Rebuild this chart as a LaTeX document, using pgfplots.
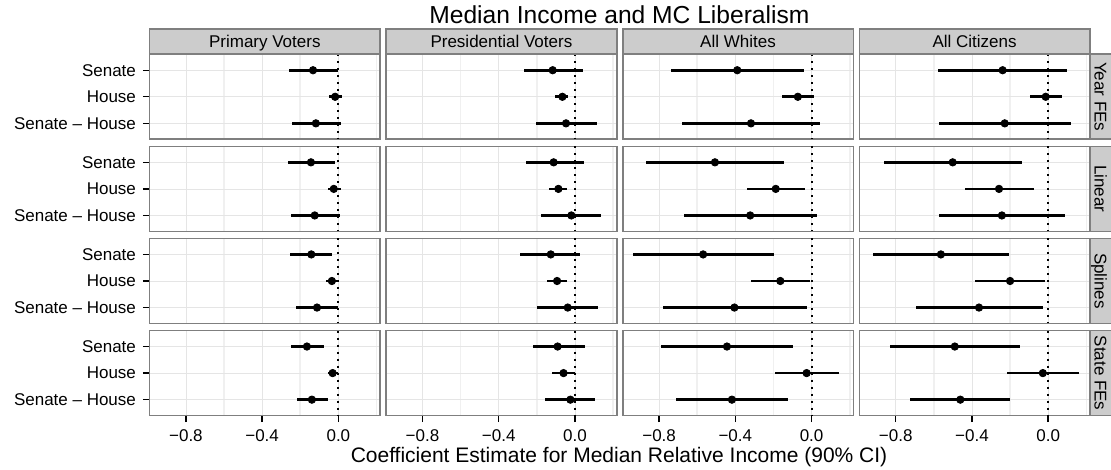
\documentclass[border=0pt]{standalone}
\usepackage{pgfplots}
\pgfplotsset{compat=1.18}
\usepackage{pgfplotstable}
\usepackage{fontspec}
\setmainfont{Liberation Sans}

\definecolor{grey50}{HTML}{7F7F7F}
\definecolor{grey80}{HTML}{CCCCCC}
\definecolor{grey90}{HTML}{E5E5E5}
\definecolor{gridminor}{HTML}{F0F0F0}

% y: 1 = Senate, 2 = House, 3 = Senate - House; lo/hi = 90% CI bounds
% Primary Voters
\pgfplotstableread{
y lo est hi
1 -0.257 -0.133 -0.004
2 -0.051 -0.017 0.019
3 -0.244 -0.118 0.015
}\priYear
\pgfplotstableread{
y lo est hi
1 -0.266 -0.144 -0.019
2 -0.056 -0.024 0.015
3 -0.247 -0.124 0.006
}\priLin
\pgfplotstableread{
y lo est hi
1 -0.253 -0.142 -0.032
2 -0.066 -0.034 -0.004
3 -0.223 -0.112 0.000
}\priSpl
\pgfplotstableread{
y lo est hi
1 -0.251 -0.165 -0.075
2 -0.054 -0.030 -0.004
3 -0.219 -0.139 -0.054
}\priState
% Presidential Voters
\pgfplotstableread{
y lo est hi
1 -0.267 -0.117 0.041
2 -0.107 -0.066 -0.038
3 -0.203 -0.047 0.113
}\presYear
\pgfplotstableread{
y lo est hi
1 -0.259 -0.112 0.047
2 -0.138 -0.087 -0.040
3 -0.179 -0.019 0.139
}\presLin
\pgfplotstableread{
y lo est hi
1 -0.286 -0.127 0.026
2 -0.145 -0.094 -0.041
3 -0.198 -0.038 0.122
}\presSpl
\pgfplotstableread{
y lo est hi
1 -0.222 -0.091 0.053
2 -0.123 -0.060 0.000
3 -0.155 -0.024 0.104
}\presState
% All Whites
\pgfplotstableread{
y lo est hi
1 -0.738 -0.390 -0.038
2 -0.154 -0.072 0.015
3 -0.678 -0.318 0.043
}\whYear
\pgfplotstableread{
y lo est hi
1 -0.870 -0.507 -0.147
2 -0.339 -0.188 -0.034
3 -0.670 -0.322 0.028
}\whLin
\pgfplotstableread{
y lo est hi
1 -0.936 -0.569 -0.196
2 -0.318 -0.164 -0.006
3 -0.782 -0.405 -0.026
}\whSpl
\pgfplotstableread{
y lo est hi
1 -0.789 -0.444 -0.096
2 -0.194 -0.026 0.145
3 -0.710 -0.418 -0.126
}\whState
% All Citizens
\pgfplotstableread{
y lo est hi
1 -0.576 -0.239 0.098
2 -0.096 -0.013 0.073
3 -0.574 -0.228 0.121
}\citYear
\pgfplotstableread{
y lo est hi
1 -0.864 -0.501 -0.137
2 -0.439 -0.258 -0.073
3 -0.572 -0.243 0.087
}\citLin
\pgfplotstableread{
y lo est hi
1 -0.917 -0.563 -0.205
2 -0.384 -0.200 -0.015
3 -0.695 -0.363 -0.028
}\citSpl
\pgfplotstableread{
y lo est hi
1 -0.831 -0.490 -0.147
2 -0.218 -0.028 0.164
3 -0.723 -0.461 -0.198
}\citState

\pgfplotsset{
  panel/.style={
    scale only axis, width=115.3pt, height=42.5pt,
    xmin=-0.991, xmax=0.219, ymin=0.4, ymax=3.6, y dir=reverse,
    xtick={-0.8,-0.4,0}, minor xtick={-1,-0.6,-0.2,0.2}, ytick={1,2,3},
    xticklabels={}, yticklabels={},
    grid=both,
    major grid style={draw=grey90, line width=0.35pt},
    minor grid style={draw=gridminor, line width=0.8pt},
    axis line style={draw=grey50, line width=0.8pt},
    tick align=outside, major tick length=3.25pt, minor tick length=0pt,
    xtick pos=bottom, ytick pos=left,
    xtick style={draw=none}, ytick style={draw=none},
    minor tick style={draw=none},
    tick label style={font=\fontsize{8.5}{10}\selectfont, text=black},
  },
  leftcol/.style={yticklabels={Senate,House,Senate – House},
    ytick style={draw=black, line width=0.7pt}},
  bottomrow/.style={xticklabels={−0.8,−0.4,0.0},
    xtick style={draw=black, line width=0.7pt}},
  zeroline/.style={black, line width=1pt, dash pattern=on 1pt off 2.5pt},
  est/.style={black, only marks, mark=*, mark size=1.85pt,
    mark options={solid, fill=black},
    error bars/x dir=both, error bars/x explicit, error bars/error mark=none,
    error bars/error bar style={line width=1.35pt, solid, black}},
}

% one facet: #1 column (0-3), #2 row (0-3), #3 table, #4 extra options
\newcommand{\panel}[4]{%
  \begin{axis}[panel, anchor=south west,
      at={({74.75pt+118.3pt*#1},{165.35pt-46.05pt*#2})}, #4]
    \addplot[zeroline] coordinates {(0,0.4) (0,3.6)};
    \addplot[est] table[x=est, y=y,
      x error plus expr=\thisrow{hi}-\thisrow{est},
      x error minus expr=\thisrow{est}-\thisrow{lo}] {#3};
  \end{axis}}

\newcommand{\topstrip}[2]{%
  \filldraw[fill=grey80, draw=grey50, line width=0.8pt]
    ({74.75pt+118.3pt*#1},207.85pt) rectangle ++(115.3pt,12.5pt);
  \node[anchor=base, font=\fontsize{8.5}{10}\selectfont, inner sep=0pt]
    at ({74.75pt+118.3pt*#1+57.65pt},211.05pt) {#2};}

\newcommand{\sidestrip}[2]{%
  \filldraw[fill=grey80, draw=grey50, line width=0.8pt]
    (545.05pt,{165.35pt-46.05pt*#1}) rectangle ++(14pt,42.5pt);
  \node[anchor=base, rotate=-90, font=\fontsize{8.5}{10}\selectfont, inner sep=0pt]
    at (547.25pt,{165.35pt-46.05pt*#1+21.25pt}) {#2};}

\begin{document}
\begin{tikzpicture}
\useasboundingbox (0,0) rectangle (555.5pt,235pt);

\panel{0}{0}{\priYear}{leftcol}
\panel{1}{0}{\presYear}{}
\panel{2}{0}{\whYear}{}
\panel{3}{0}{\citYear}{}
\panel{0}{1}{\priLin}{leftcol}
\panel{1}{1}{\presLin}{}
\panel{2}{1}{\whLin}{}
\panel{3}{1}{\citLin}{}
\panel{0}{2}{\priSpl}{leftcol}
\panel{1}{2}{\presSpl}{}
\panel{2}{2}{\whSpl}{}
\panel{3}{2}{\citSpl}{}
\panel{0}{3}{\priState}{leftcol,bottomrow}
\panel{1}{3}{\presState}{bottomrow}
\panel{2}{3}{\whState}{bottomrow}
\panel{3}{3}{\citState}{bottomrow}

\topstrip{0}{Primary Voters}
\topstrip{1}{Presidential Voters}
\topstrip{2}{All Whites}
\topstrip{3}{All Citizens}
\sidestrip{0}{Year FEs}
\sidestrip{1}{Linear}
\sidestrip{2}{Splines}
\sidestrip{3}{State FEs}

\node[anchor=base, font=\fontsize{12.3}{14}\selectfont, inner sep=0pt]
  at (309.7pt,223.35pt) {Median Income and MC Liberalism};
\node[anchor=base, font=\fontsize{10.5}{12}\selectfont, inner sep=0pt]
  at (309.5pt,3.65pt) {Coefficient Estimate for Median Relative Income (90\% CI)};
\end{tikzpicture}
\end{document}
